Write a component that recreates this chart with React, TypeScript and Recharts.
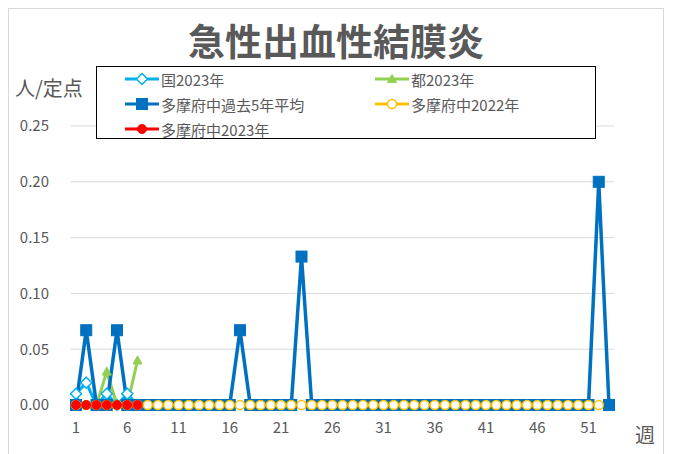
import React from "react";
import { ComposedChart, Line, XAxis, YAxis, CartesianGrid } from "recharts";

const weeks = [1,2,3,4,5,6,7,8,9,10,11,12,13,14,15,16,17,18,19,20,21,22,23,24,25,26,27,28,29,30,31,32,33,34,35,36,37,38,39,40,41,42,43,44,45,46,47,48,49,50,51,52,53];
const kuni2023 = [0.01,0.02,0,0.01,0,0.01,0];
const to2023 = [0,0,0,0.03,0,0,0.04];
const past5 = [0,0.067,0,0,0.067,0,0,0,0,0,0,0,0,0,0,0,0.067,0,0,0,0,0,0.133,0,0,0,0,0,0,0,0,0,0,0,0,0,0,0,0,0,0,0,0,0,0,0,0,0,0,0,0,0.2,0];
const fuchu2022 = [0,0,0,0,0,0,0,0,0,0,0,0,0,0,0,0,0,0,0,0,0,0,0,0,0,0,0,0,0,0,0,0,0,0,0,0,0,0,0,0,0,0,0,0,0,0,0,0,0,0,0,0];
const fuchu2023 = [0,0,0,0,0,0,0];
const yTicks = [0,0.05,0.1,0.15,0.2,0.25];

const C_KUNI = "#00B0F0";
const C_TO = "#92D050";
const C_PAST = "#0070C0";
const C_2022 = "#FFC000";
const C_2023 = "#FF0000";
const GRAY = "#595959";
const FONT = "'Noto Sans CJK JP', 'Noto Sans', sans-serif";

const data = weeks.map((w, i) => ({
  week: w,
  kuni: i < kuni2023.length ? kuni2023[i] : null,
  to: i < to2023.length ? to2023[i] : null,
  past: i < past5.length ? past5[i] : null,
  f22: i < fuchu2022.length ? fuchu2022[i] : null,
  f23: i < fuchu2023.length ? fuchu2023[i] : null,
}));

type Shape = "diamond" | "triangle" | "square" | "circleOpen" | "circle";

function Marker({ shape, cx, cy, color }: { shape: Shape; cx: number; cy: number; color: string }) {
  if (shape === "diamond") {
    const s = 5.5;
    return <polygon points={`${cx},${cy - s} ${cx + s},${cy} ${cx},${cy + s} ${cx - s},${cy}`} fill="#fff" stroke={color} strokeWidth={1.5} />;
  }
  if (shape === "triangle") {
    const s = 4.5;
    return <polygon points={`${cx},${cy - s} ${cx + s},${cy + s * 0.8} ${cx - s},${cy + s * 0.8}`} fill={color} stroke={color} strokeWidth={1} />;
  }
  if (shape === "square") {
    return <rect x={cx - 5.5} y={cy - 5.5} width={11} height={11} fill={color} stroke={color} strokeWidth={1} />;
  }
  if (shape === "circleOpen") {
    return <circle cx={cx} cy={cy} r={4.6} fill="#fff" stroke={color} strokeWidth={1.5} />;
  }
  return <circle cx={cx} cy={cy} r={4.5} fill={color} stroke={color} strokeWidth={1} />;
}

const makeDot = (shape: Shape, color: string) => (props: any) => {
  const { cx, cy, value, index } = props;
  if (cx == null || cy == null || value == null) return <g key={`d-${shape}-${index}`} />;
  return (
    <g key={`d-${shape}-${index}`}>
      <Marker shape={shape} cx={cx} cy={cy} color={color} />
    </g>
  );
};

const legendItems: { label: string; color: string; shape: Shape; col: number; row: number }[] = [
  { label: "国2023年", color: C_KUNI, shape: "diamond", col: 0, row: 0 },
  { label: "都2023年", color: C_TO, shape: "triangle", col: 1, row: 0 },
  { label: "多摩府中過去5年平均", color: C_PAST, shape: "square", col: 0, row: 1 },
  { label: "多摩府中2022年", color: C_2022, shape: "circleOpen", col: 1, row: 1 },
  { label: "多摩府中2023年", color: C_2023, shape: "circle", col: 0, row: 2 },
];

export default function App() {
  return (
    <div style={{ position: "relative", width: 654, height: 460, border: "1px solid #d9d9d9", fontFamily: FONT, background: "#fff" }}>
      <ComposedChart width={654} height={446} data={data} margin={{ top: 117, right: 49, bottom: 20, left: 0 }}>
        <CartesianGrid vertical={false} stroke="#d9d9d9" />
        <XAxis
          dataKey="week"
          interval={4}
          height={30}
          padding={{ left: 5, right: 5 }}
          tickLine={false}
          tickSize={0}
          tickMargin={17}
          axisLine={{ stroke: "#d9d9d9" }}
          tick={{ fill: GRAY, fontSize: 15, fontFamily: FONT }}
        />
        <YAxis
          width={62}
          domain={[0, 0.25]}
          ticks={yTicks}
          tickFormatter={(v: number) => v.toFixed(2)}
          axisLine={false}
          tickLine={false}
          tickSize={0}
          tickMargin={22}
          tick={{ fill: GRAY, fontSize: 15, fontFamily: FONT }}
        />
        <Line dataKey="kuni" stroke={C_KUNI} strokeWidth={3} dot={makeDot("diamond", C_KUNI)} isAnimationActive={false} />
        <Line dataKey="to" stroke={C_TO} strokeWidth={3} dot={makeDot("triangle", C_TO)} isAnimationActive={false} />
        <Line dataKey="past" stroke={C_PAST} strokeWidth={3.5} dot={makeDot("square", C_PAST)} isAnimationActive={false} />
        <Line dataKey="f22" stroke={C_2022} strokeWidth={3} dot={makeDot("circleOpen", C_2022)} isAnimationActive={false} />
        <Line dataKey="f23" stroke={C_2023} strokeWidth={3} dot={makeDot("circle", C_2023)} isAnimationActive={false} />
      </ComposedChart>

      <div style={{ position: "absolute", left: 0, top: 11, width: 654, height: 40, lineHeight: "40px", textAlign: "center", fontSize: 37, fontWeight: "bold", color: GRAY }}>
        急性出血性結膜炎
      </div>
      <div style={{ position: "absolute", left: 6, top: 66, height: 26, lineHeight: "26px", fontSize: 20, color: GRAY, whiteSpace: "nowrap" }}>
        人/定点
      </div>
      <div style={{ position: "absolute", left: 626, top: 413, height: 26, lineHeight: "26px", fontSize: 20, color: GRAY }}>
        週
      </div>

      <div style={{ position: "absolute", left: 87, top: 57, width: 498, height: 71, border: "1px solid #000", background: "#fff" }}>
        {legendItems.map((it) => (
          <div
            key={it.label}
            style={{ position: "absolute", left: it.col === 0 ? 28 : 278, top: 1 + it.row * 25, height: 22, display: "flex", alignItems: "center", whiteSpace: "nowrap" }}
          >
            <svg width={34} height={14} style={{ display: "block" }}>
              <line x1={0} y1={7} x2={34} y2={7} stroke={it.color} strokeWidth={3} />
              <Marker shape={it.shape} cx={17} cy={7} color={it.color} />
            </svg>
            <span style={{ marginLeft: 2, fontSize: 15, color: GRAY }}>{it.label}</span>
          </div>
        ))}
      </div>
    </div>
  );
}
